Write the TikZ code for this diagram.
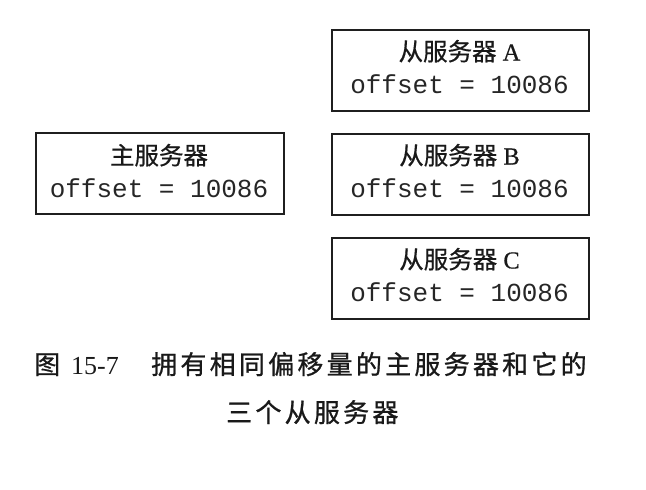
\documentclass[tikz,border=0pt]{standalone}
\usepackage{fontspec}
\setmainfont{Liberation Serif}
\newfontfamily\cjk[FakeBold=0.6]{Noto Sans CJK SC}
\newfontfamily\ttlser[FakeBold=0.5]{Liberation Serif}
\newfontfamily\capcjk[LetterSpace=12.5,FakeBold=0.9]{Noto Sans CJK SC}
\newfontfamily\mono{Liberation Mono}
\begin{document}
\begin{tikzpicture}[x=1pt,y=-1pt,
  srv/.style={draw=black!88, line width=1.6pt, inner sep=0pt, anchor=north west,
              minimum height=81pt},
  ttl/.style={inner sep=0pt, anchor=base, font=\ttlser\fontsize{24.5}{27}\selectfont, text=black!90},
  val/.style={inner sep=0pt, anchor=base, font=\mono\fontsize{26}{28}\selectfont, text=black!85},
  captxt/.style={inner sep=0pt, anchor=base west, font=\fontsize{26}{30}\selectfont, text=black!90}]
\useasboundingbox (0,0) rectangle (646,490);
% master
\node[srv, minimum width=248pt] (m) at (35,132) {};
\node[ttl] (mt) at (159,164.5) {\cjk 主服务器};
\node[val] (mv) at (159,197) {offset = 10086};
% slave A
\node[srv, minimum width=257pt] (a) at (331,29) {};
\node[ttl] (at) at (459.5,60.5) {{\cjk 从服务器} A};
\node[val] (av) at (459.5,93) {offset = 10086};
% slave B
\node[srv, minimum width=257pt] (b) at (331,133) {};
\node[ttl] (bt) at (459.5,164.5) {{\cjk 从服务器} B};
\node[val] (bv) at (459.5,197) {offset = 10086};
% slave C
\node[srv, minimum width=257pt] (c) at (331,237) {};
\node[ttl] (ct) at (459.5,268.5) {{\cjk 从服务器} C};
\node[val] (cv) at (459.5,301) {offset = 10086};
% caption
\node[captxt] (c1) at (34,374) {\cjk 图};
\node[captxt] (c2) at (71,374) {15-7};
\node[captxt] (c3) at (151,374) {\capcjk 拥有相同偏移量的主服务器和它的};
\node[captxt] (c4) at (226,422) {\capcjk 三个从服务器};
\end{tikzpicture}
\end{document}
